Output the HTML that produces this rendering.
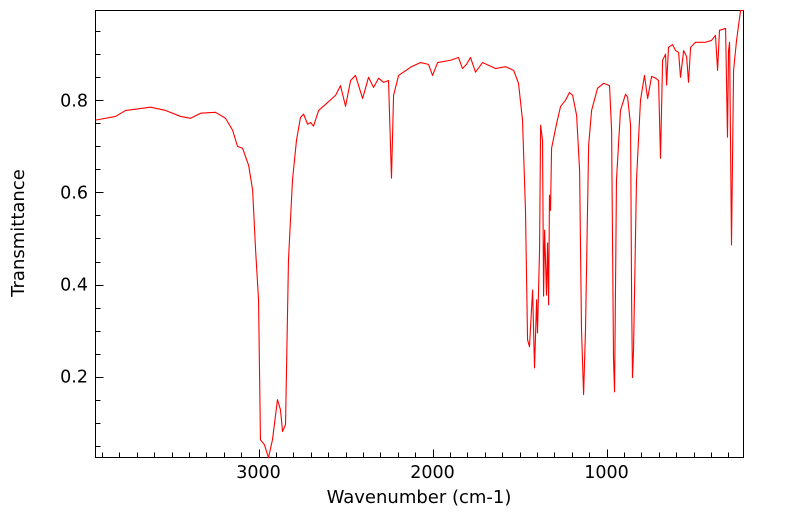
<!DOCTYPE html>
<html><head><meta charset="utf-8"><style>
html,body{margin:0;padding:0;background:#fff;}
svg{display:block;font-family:"DejaVu Sans","Liberation Sans",sans-serif;}
</style></head><body>
<svg id="chart" width="799" height="516" xmlns="http://www.w3.org/2000/svg">
<rect x="95.5" y="10.5" width="648" height="447" fill="#fff" stroke="#000" stroke-width="1"/>
<g id="ticks"></g>
<path id="line" fill="none" stroke="#ff0000" stroke-width="1.1" stroke-linejoin="round"/>
<text x="419" y="503" font-size="18" text-anchor="middle">Wavenumber (cm-1)</text>
<text x="0" y="0" font-size="18" text-anchor="middle" transform="translate(24,233) rotate(-90)">Transmittance</text>
</svg>
<script>
const wavenumbers=[3937,3822,3764,3621,3534,3448,3391,3333,3247,3190,3149,3121,3092,3057,3034,3017,3000,2989,2966,2943,2920,2891,2874,2862,2845,2828,2805,2782,2759,2741,2718,2701,2684,2655,2615,2557,2529,2500,2471,2443,2402,2368,2339,2310,2282,2253,2236,2224,2195,2126,2069,2023,2000,1971,1897,1851,1828,1805,1782,1753,1713,1638,1580,1534,1506,1483,1466,1454,1443,1425,1414,1402,1397,1385,1379,1368,1362,1356,1345,1339,1333,1328,1322,1316,1287,1264,1236,1213,1195,1172,1155,1144,1132,1121,1103,1086,1052,1017,983,971,960,954,943,920,891,879,862,856,851,845,828,805,782,764,741,718,701,690,678,661,655,644,621,603,586,575,557,540,529,517,489,431,397,374,362,351,316,305,299,293,282,270,253,230,213];
const transmittance=[0.757,0.765,0.778,0.785,0.778,0.765,0.761,0.772,0.774,0.761,0.735,0.700,0.696,0.659,0.605,0.475,0.367,0.063,0.052,0.024,0.063,0.150,0.128,0.081,0.096,0.453,0.627,0.713,0.763,0.770,0.748,0.752,0.744,0.778,0.791,0.811,0.832,0.787,0.843,0.854,0.804,0.850,0.828,0.848,0.839,0.843,0.631,0.811,0.854,0.872,0.882,0.878,0.854,0.882,0.887,0.893,0.869,0.878,0.893,0.861,0.882,0.869,0.873,0.865,0.837,0.757,0.562,0.280,0.265,0.388,0.219,0.367,0.295,0.475,0.746,0.713,0.375,0.518,0.377,0.490,0.356,0.594,0.561,0.696,0.750,0.787,0.800,0.817,0.811,0.767,0.648,0.302,0.161,0.302,0.702,0.778,0.826,0.837,0.832,0.735,0.237,0.167,0.627,0.778,0.813,0.807,0.746,0.367,0.198,0.258,0.627,0.800,0.854,0.804,0.852,0.848,0.843,0.674,0.887,0.900,0.833,0.915,0.921,0.908,0.904,0.850,0.908,0.895,0.839,0.915,0.926,0.926,0.930,0.941,0.865,0.952,0.956,0.720,0.908,0.926,0.486,0.865,0.930,0.999,1.01];
const xTickLabels=[3000,2000,1000];
const yTickLabels=[0.2,0.4,0.6,0.8];
const L=95.5,R=743.5,T=10.5,B=457.5;
const X0=3937,X1=213,Y0=0.0245,Y1=0.995;
const xs=w=>L+(X0-w)/(X0-X1)*(R-L);
const ys=v=>B-(v-Y0)/(Y1-Y0)*(B-T);
const ns="http://www.w3.org/2000/svg";
const svg=document.getElementById('chart');
const tg=document.getElementById('ticks');
function ln(x1,y1,x2,y2){const l=document.createElementNS(ns,'line');


l.setAttribute('x1',x1);l.setAttribute('y1',y1);l.setAttribute('x2',x2);l.setAttribute('y2',y2);l.setAttribute('stroke','#000');tg.appendChild(l);}
function tx(x,y,s,anchor,name){const t=document.createElementNS(ns,'text');


t.setAttribute('x',x);t.setAttribute('y',y);t.setAttribute('font-size','17.5');t.setAttribute('text-anchor',anchor);t.textContent=s;svg.appendChild(t);}
for(let w=3900;w>=300;w-=100){const x=Math.round(xs(w))+0.5;ln(x,B,x,B-(w%1000===0?8:5));}
for(const w of xTickLabels){tx(xs(w),478,String(w),'middle','x-tick-label');}
for(let v=0.05;v<0.99;v+=0.05){const y=Math.round(ys(v))+0.5;const major=Math.abs(v*10-Math.round(v*10))<1e-6&&Math.round(v*10)%2===0;ln(L,y,L+(major?8:5),y);}
for(const v of yTickLabels){tx(88,ys(v)+6,v.toFixed(1),'end','y-tick-label');}
let d='';
for(let i=0;i<wavenumbers.length;i++){d+=(i?'L':'M')+xs(wavenumbers[i]).toFixed(2)+','+ys(Math.min(transmittance[i],Y1)).toFixed(2);}
document.getElementById('line').setAttribute('d',d);
</script>
</body></html>
